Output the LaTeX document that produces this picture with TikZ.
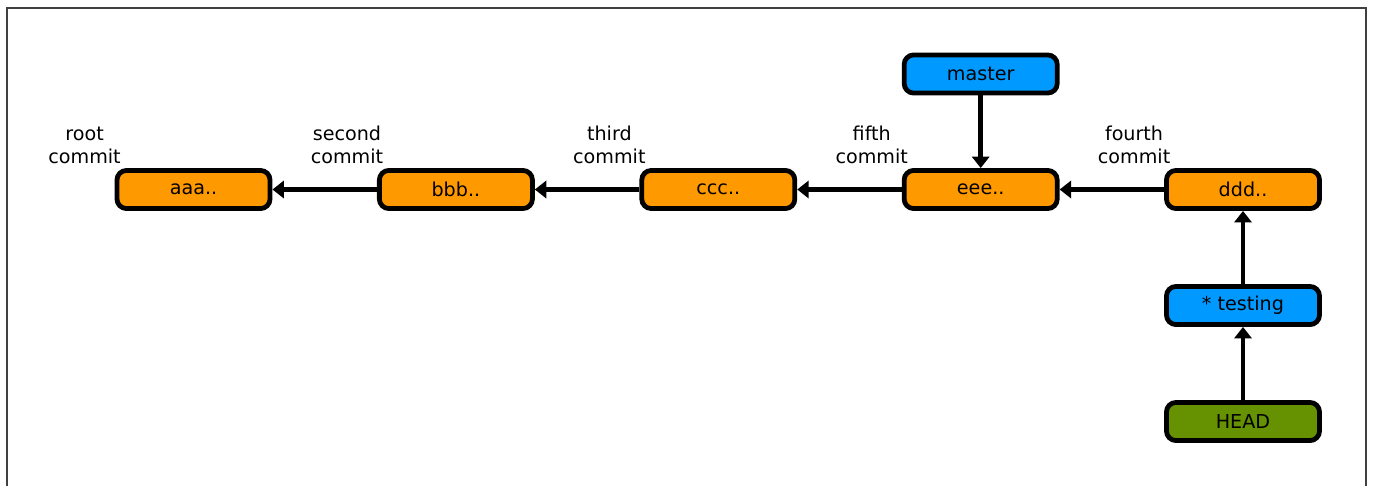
\documentclass[tikz,border=0pt]{standalone}
\usepackage{fontspec}
\setmainfont{DejaVu Sans}
\usetikzlibrary{arrows.meta}
\definecolor{commitorange}{RGB}{255,153,0}
\definecolor{branchblue}{RGB}{0,153,255}
\definecolor{headgreen}{RGB}{102,145,0}
\begin{document}
\begin{tikzpicture}[x=0.01835cm,y=-0.01835cm,
    every node/.style={font=\fontsize{10}{12}\selectfont},
    box/.style={draw=black,line width=2.5pt,rounded corners=5pt,
                minimum width=2.81cm,minimum height=0.70cm,inner sep=0pt},
    commit/.style={box,fill=commitorange},
    branch/.style={box,fill=branchblue},
    headbox/.style={box,fill=headgreen},
    link/.style={line width=2.5pt,-{Triangle[width=9pt,length=6pt]}},
    note/.style={align=center,anchor=south,inner sep=0pt}]
  % Draw frame
  \useasboundingbox (0,0) rectangle (1373,486);
  \draw[black!75,line width=0.8pt] (7,486) -- (7,8) -- (1366,8) -- (1366,486);

  % Draw commits
  \node[commit] (aaa) at (193.5,189.5) {aaa..};
  \node[commit] (bbb) at (455.9,189.5) {bbb..};
  \node[commit] (ccc) at (718.3,189.5) {ccc..};
  \node[commit] (eee) at (980.7,189.5) {eee..};
  \node[commit] (ddd) at (1243,189.5) {ddd..};

  % Draw branches and HEAD
  \node[branch] (master) at (980.7,74) {master};
  \node[branch] (testing) at (1243,305.5) {* testing};
  \node[headbox] (head) at (1243,421.5) {HEAD};

  % Commit labels
  \node[note] (aaalabel) at ([shift={(-30,-4)}]aaa.north west) {root\\commit};
  \node[note] (bbblabel) at ([shift={(-30,-4)}]bbb.north west) {second\\commit};
  \node[note] (ccclabel) at ([shift={(-30,-4)}]ccc.north west) {third\\commit};
  \node[note] (eeelabel) at ([shift={(-30,-4)}]eee.north west) {fifth\\commit};
  \node[note] (dddlabel) at ([shift={(-30,-4)}]ddd.north west) {fourth\\commit};

  % Draw parent links
  \draw[link] (bbb) -- (aaa);
  \draw[link] (ccc) -- (bbb);
  \draw[link] (eee) -- (ccc);
  \draw[link] (ddd) -- (eee);
  \draw[link] (master) -- (eee);
  \draw[link] (testing) -- (ddd);
  \draw[link] (head) -- (testing);
\end{tikzpicture}
\end{document}
